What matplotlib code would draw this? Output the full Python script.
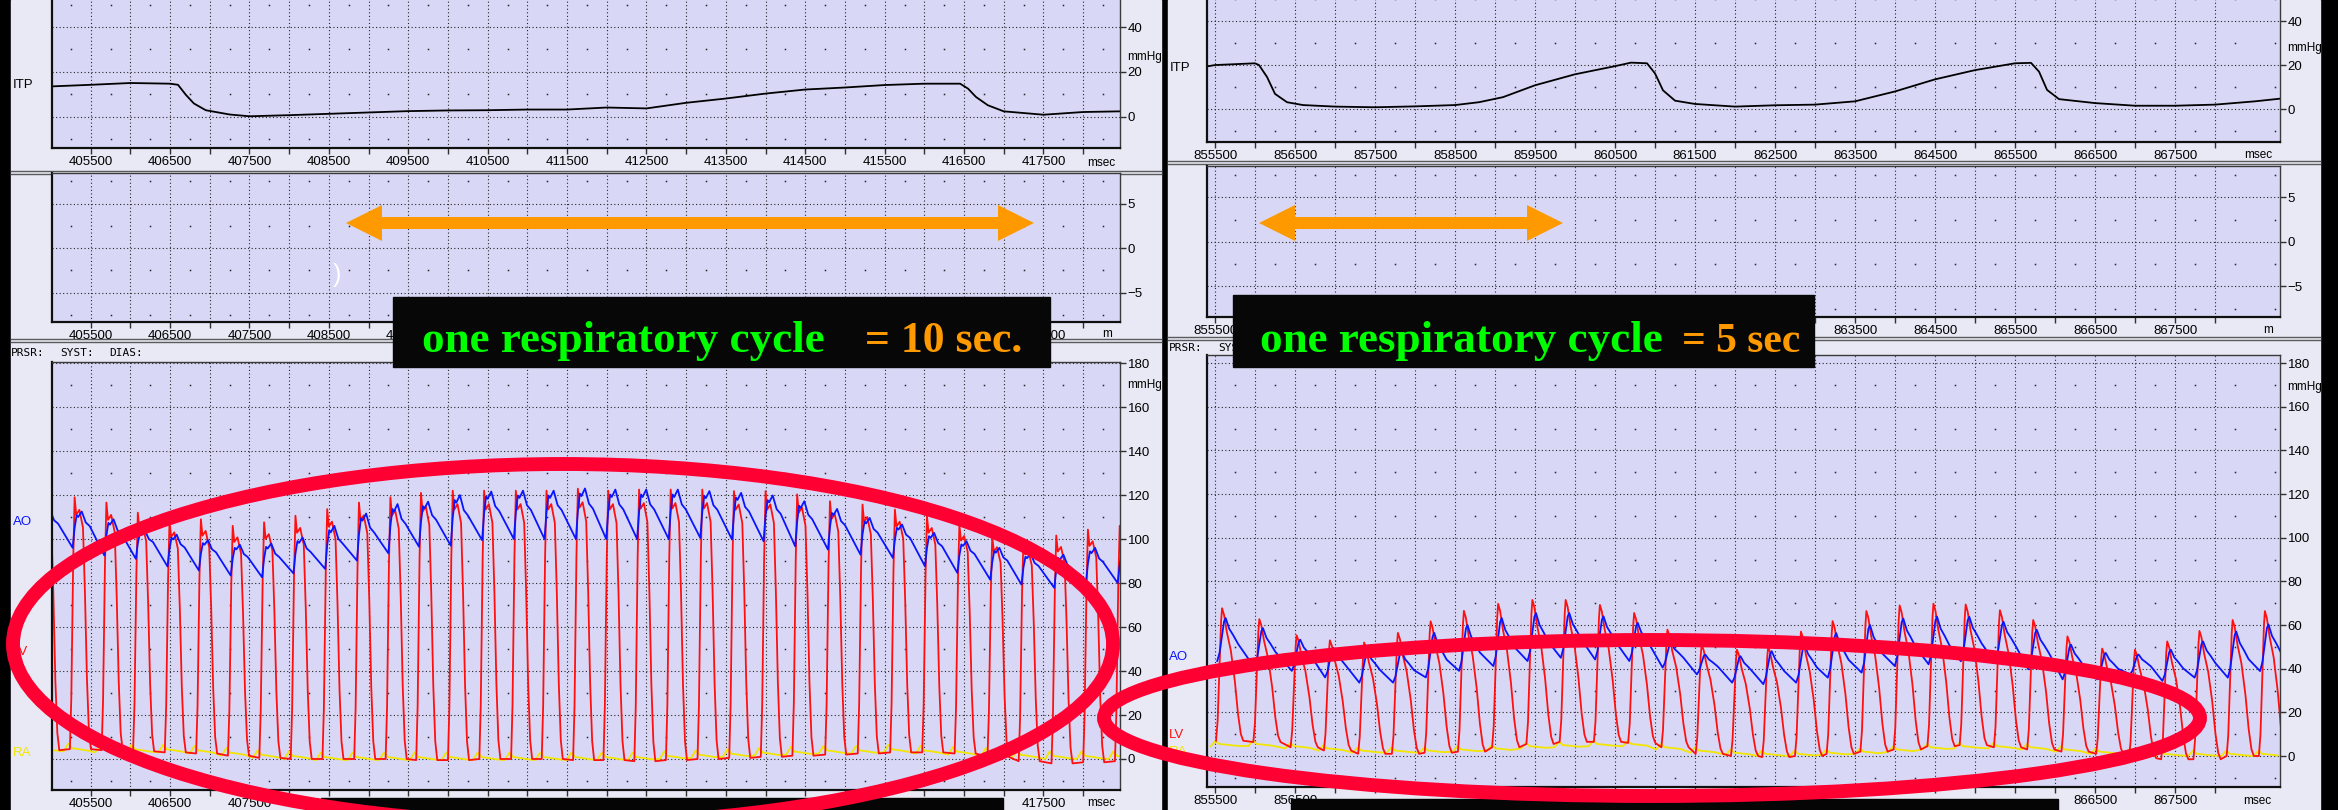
import numpy as np
import matplotlib
matplotlib.use('Agg')
import matplotlib.pyplot as plt
from matplotlib import font_manager
from matplotlib.patches import Rectangle, Ellipse, Polygon
from matplotlib.transforms import ScaledTranslation

W, H = 2338, 810
DPI = 100

# ---------------- data ----------------
# intrathoracic pressure (ITP), mmHg
left_itp_t = [405013, 405500, 406000, 406500, 406600, 406700, 406800, 406950, 407250, 407500,
              408000, 408500, 409000, 409500, 410000, 410500, 411000, 411500, 412000, 412500,
              413000, 413500, 414000, 414500, 415000, 415500, 416000, 416450, 416550, 416650,
              416800, 417000, 417500, 418000, 418460]
left_itp_v = [13.6, 14.3, 15.1, 14.8, 14.3, 9.8, 6.0, 3.0, 1.1, 0.3,
              0.8, 1.4, 2.0, 2.6, 2.9, 3.0, 3.3, 3.3, 4.2, 3.8,
              6.3, 8.2, 10.4, 12.2, 13.1, 14.2, 14.8, 14.8, 12.6, 8.9,
              5.2, 2.5, 1.0, 2.2, 2.5]

right_itp_t = [855374, 855500, 856000, 856050, 856150, 856250, 856400, 856600, 857000, 857500,
               858000, 858500, 858800, 859100, 859500, 860000, 860500, 860700, 860900, 861000,
               861100, 861250, 861500, 862000, 862500, 863000, 863500, 864000, 864500, 865000,
               865500, 865700, 865800, 865900, 866050, 866500, 867000, 867500, 868000, 868500,
               868888]
right_itp_v = [19.2, 20.0, 20.8, 20.0, 14.6, 6.9, 3.1, 1.8, 1.1, 0.8,
               1.2, 1.8, 3.1, 5.4, 10.8, 15.8, 19.5, 21.1, 20.8, 16.2,
               8.5, 3.8, 2.3, 1.1, 1.7, 2.0, 3.5, 8.0, 13.5, 17.7,
               20.8, 21.0, 17.0, 8.7, 4.5, 2.7, 1.5, 1.5, 2.0, 3.5,
               5.0]

# beat by beat values (time of LV peak, msec)
left_beat_t = [404900, 405298, 405698, 406094, 406493, 406888, 407289, 407684, 408079, 408479,
               408879, 409275, 409660, 410060, 410455, 410855, 411241, 411636, 412018, 412407,
               412805, 413203, 413602, 414000, 414398, 414811, 415221, 415629, 416033, 416441,
               416855, 417248, 417661, 418060, 418460]
left_lv_peak = [118, 119, 116.6, 112, 108.3, 109, 106, 107.6, 110.6, 113.6,
                116.6, 119, 121, 122, 122, 122, 122, 122.9, 122, 122.5,
                122.5, 122.5, 121.8, 121.8, 120.3, 117.2, 115.7, 113.4, 110.4, 106.6,
                101.3, 100.1, 101.6, 104.3, 106]
left_lv_edp = [4, 4.5, 4, 3.5, 3, 2.5, 1.5, 0.5, 0, 0,
               0, 0, -0.5, -0.5, 0, 0, 0, -0.5, -0.5, -1,
               -0.5, 0, 0.5, 1, 1.5, 2, 2.5, 3, 3, 2.5,
               1, -1, -2, -1.5, -1]
left_ao_dia = [98, 96, 92.5, 91, 87.5, 85.7, 83.4, 82.6, 84.4, 86.4,
               90.2, 93.5, 96.5, 97, 99.5, 100, 100, 100, 100, 100,
               100, 100.5, 99.8, 99, 96.7, 95.2, 92.9, 91.4, 87.6, 84.6,
               81.5, 79.3, 77.8, 80, 80]
left_ao_sys = [113, 112.5, 109, 103.8, 102, 99.5, 97.4, 98, 100.7, 106,
               111.6, 115.9, 117, 120, 121.6, 122, 122, 123, 122.5, 122.5,
               122.5, 121.8, 121, 119.8, 117.2, 113.7, 109.6, 106.6, 102.8, 99,
               96, 93.4, 92.9, 96, 95]
left_ra_base = [3.5, 3.5, 3, 3, 3, 2.5, 1.5, 0.5, 0, -0.5,
                -0.5, -0.5, -0.5, -0.5, -0.5, -0.5, -0.5, -0.5, -0.5, -0.5,
                0, 0.5, 1, 1.5, 2, 2.5, 2.5, 3, 2.5, 2,
                1.5, 0.5, 0, 0, 0]
left_ra_bump = 3.5

right_beat_t = [855588, 856054, 856520, 856936, 857364, 857786, 858195, 858611, 859039, 859467,
                859883, 860311, 860739, 861155, 861583, 862024, 862414, 862824, 863220, 863642,
                864058, 864480, 864883, 865311, 865727, 866155, 866589, 866999, 867402, 867805,
                868220, 868623]
right_lv_peak = [67.7, 62.7, 55.3, 53, 52, 56.4, 61.7, 66.5, 69.7, 71.5,
                 71.5, 69.2, 65.5, 57.9, 51, 48.7, 50, 57, 61.8, 66.4,
                 69, 69.8, 69.4, 66.8, 62.3, 54.8, 49.2, 48.7, 52.5, 57.3,
                 62.3, 66.4]
right_lv_edp = [7, 6.4, 4, 2.5, 1, 1, 1.5, 2, 4, 5.5,
                6.5, 6.5, 6, 4, 1, 0, -0.5, 0, 1, 2,
                3, 4.5, 5, 4, 3, 2, 1, -1, -1.5, -1.5,
                0, 0]
right_ao_dia = [43.5, 40.5, 39, 36, 33.6, 33.6, 36, 39, 41.2, 43.5,
                45, 44.2, 43.5, 40.5, 37.4, 33.6, 32.9, 33.6, 35.9, 38.2,
                41.2, 42, 43.4, 42.7, 39.7, 35.1, 35.1, 37.4, 34.4, 35.9,
                35.9, 38.9]
right_ao_sys = [63.2, 58.6, 53.3, 49.5, 48, 48, 56.4, 60, 63.2, 65.5,
                65.5, 64, 61, 51.8, 46.5, 45.7, 48, 51, 56.3, 60,
                63, 63.8, 63.8, 61.5, 57.8, 51, 47.2, 46.5, 48.7, 52.5,
                57, 60.3]
right_ra_base = [4.5, 4.5, 3.5, 2.5, 1.5, 1.5, 1.5, 2, 2.5, 3.5,
                 4, 4.5, 4.5, 3, 1.5, 0.5, 0, 0, 0.5, 1,
                 2, 3, 3.5, 3.5, 3, 2, 1, 0.5, 0, 0,
                 0, 0]
right_ra_bump = 2.5

# shape of one beat (msec from LV peak, fraction of the beat's swing)
left_lv_dt = [-60, -42, -18, 0, 20, 60, 105, 130, 155, 180, 205]
left_lv_f = [0, 0.2, 0.75, 1, 0.93, 0.95, 0.88, 0.62, 0.28, 0.07, 0]
left_ao_dt = [-25, 0, 25, 45, 90, 140, 190]
left_ao_f = [0, 0.55, 0.9, 0.85, 1.0, 0.7, 0.6]
right_lv_dt = [-75, -55, -30, -12, 0, 25, 60, 110, 160, 200, 235, 265]
right_lv_f = [0, 0.15, 0.6, 0.9, 1, 0.95, 0.82, 0.68, 0.45, 0.2, 0.05, 0]
right_ao_dt = [-60, -30, 0, 25, 45, 90, 140, 200]
right_ao_f = [0, 0.2, 0.6, 0.92, 1.0, 0.75, 0.6, 0.4]
ra_dt = [-140, -80, -35, 40, 160]
ra_f = [0, 1, 0.4, 0.3, 0.1]

left_xlim = (405013, 418464)
right_xlim = (855400, 868812)
left_labels = list(range(405500, 418000, 1000))
right_labels = list(range(855500, 868000, 1000))

# labels that stay visible next to the black boxes / bars
left_mid_shown = [405500, 406500, 407500, 408500, 409500, 417500]
right_mid_shown = [855500, 863500, 864500, 865500, 866500, 867500]
left_low_shown = [405500, 406500, 407500, 408500, 417500]
right_low_shown = [855500, 856500, 866500, 867500]

# ---------------- style ----------------
names = {f.name for f in font_manager.fontManager.ttflist}
if 'Liberation Sans Narrow' in names:
    SANS, TS = 'Liberation Sans Narrow', 10.5
else:
    SANS, TS = 'Liberation Sans', 9.5
plt.rcParams['font.family'] = SANS

PLOT_BG = '#d8d8f6'
PANEL_BG = '#e9e9f5'
GRID = '#262626'
LV_C, AO_C, RA_C = '#ff1010', '#0a14ff', '#f2e600'


def build(beat_t, lo, hi, dt, frac):
    xs, ys = [], []
    for t, a, b in zip(beat_t, lo, hi):
        for d, f in zip(dt, frac):
            xs.append(t + d)
            ys.append(a + f * (b - a))
    return np.array(xs), np.array(ys)


def box(x0, y0, x1, y1):
    return [x0 / W, 1 - y1 / H, (x1 - x0) / W, (y1 - y0) / H]


fig = plt.figure(figsize=(W / DPI, H / DPI), dpi=DPI)
fig.patch.set_facecolor('black')

# background axes in pixel coordinates
bg = fig.add_axes([0, 0, 1, 1], zorder=-1)
bg.set_xlim(0, W)
bg.set_ylim(H, 0)
bg.axis('off')
bg.add_patch(Rectangle((0, 0), W, H, color='black'))
bg.add_patch(Rectangle((11, 0), 1150, H, color=PANEL_BG))
bg.add_patch(Rectangle((1168, 0), 1152, H, color=PANEL_BG))
for x0, x1, ys in [(11, 1161, (171, 174, 339, 342)), (1168, 2320, (161, 164, 337, 340))]:
    for y in ys:
        bg.plot([x0, x1], [y, y], color='#5a5a5a', lw=1.0)


def panel(rect, xlim, ylim, yticks, ylabels, labels, shown=None, shift_first=0):
    ax = fig.add_axes(box(*rect), zorder=1)
    ax.set_facecolor(PLOT_BG)
    ax.set_xlim(xlim)
    ax.set_ylim(ylim)
    ax.set_axisbelow(True)
    ax.set_xticks(labels)
    if shown is None:
        shown = labels
    ax.set_xticklabels([str(v) if v in shown else '' for v in labels])
    if shift_first:
        lab0 = ax.get_xticklabels()[0]
        lab0.set_transform(lab0.get_transform() + ScaledTranslation(shift_first / DPI, 0, fig.dpi_scale_trans))
    minor = np.arange(labels[0] - 500, xlim[1], 1000)
    ax.set_xticks(minor[minor > xlim[0]], minor=True)
    ax.yaxis.tick_right()
    ax.set_yticks(yticks)
    ax.set_yticklabels(ylabels)
    ax.tick_params(axis='x', which='both', direction='out', length=4, width=1,
                   color='#303030', pad=1.5, labelsize=TS)
    ax.tick_params(axis='y', direction='out', length=4, width=1, color='#303030',
                   pad=1.5, labelsize=TS)
    ax.grid(True, which='both', axis='x', color=GRID, linestyle=(0, (1, 2.2)), linewidth=0.8)
    ax.grid(True, which='major', axis='y', color=GRID, linestyle=(0, (1, 2.2)), linewidth=0.8)
    for s in ax.spines.values():
        s.set_color('#3a3a3a')
        s.set_linewidth(1.0)
    ax.spines['left'].set_color('#101010')
    ax.spines['left'].set_linewidth(1.6)
    ax.spines['bottom'].set_color('#101010')
    ax.spines['bottom'].set_linewidth(1.6)
    # sparse dots between grid lines
    step = yticks[1] - yticks[0]
    dx = np.arange(labels[0] - 250, xlim[1], 500)
    dx = dx[dx > xlim[0]]
    dy = np.arange(yticks[0] - step / 2, ylim[1], step)
    dy = dy[dy > ylim[0]]
    X, Y = np.meshgrid(dx, dy)
    ax.plot(X.ravel(), Y.ravel(), ls='none', marker='s', ms=1.1, mew=0, color=GRID, zorder=0.5)
    return ax


P_TICKS = list(range(0, 181, 20))
P_LABELS = [str(v) for v in P_TICKS]

# ---------------- left recording ----------------
itp_l = panel((52, -2, 1120, 148), left_xlim, (-13.8, 52.9), [0, 20, 40], ['0', '20', '40'], left_labels)
itp_l.plot(left_itp_t, left_itp_v, color='black', lw=1.3)
mid_l = panel((52, 173, 1120, 322), left_xlim, (-8.31, 8.43), [-5, 0, 5], ['\u22125', '0', '5'],
              left_labels, left_mid_shown)
prs_l = panel((52, 362, 1120, 790), left_xlim, (-14.1, 180.5), P_TICKS, P_LABELS,
              left_labels, left_low_shown)
lx, ly = build(left_beat_t, np.array(left_ra_base), np.array(left_ra_base) + left_ra_bump, ra_dt, ra_f)
prs_l.plot(lx, ly, color=RA_C, lw=1.3)
lx, ly = build(left_beat_t, left_lv_edp, left_lv_peak, left_lv_dt, left_lv_f)
prs_l.plot(lx, ly, color=LV_C, lw=1.3)
lx, ly = build(left_beat_t, left_ao_dia, left_ao_sys, left_ao_dt, left_ao_f)
prs_l.plot(lx, ly, color=AO_C, lw=1.3)

# ---------------- right recording ----------------
itp_r = panel((1207, -2, 2280, 142), right_xlim, (-15.0, 50.5), [0, 20, 40], ['0', '20', '40'],
              right_labels, shift_first=14)
itp_r.plot(right_itp_t, right_itp_v, color='black', lw=1.3)
mid_r = panel((1207, 166, 2280, 317), right_xlim, (-8.43, 8.54), [-5, 0, 5], ['\u22125', '0', '5'],
              right_labels, right_mid_shown, shift_first=14)
prs_r = panel((1207, 355, 2280, 787), right_xlim, (-14.2, 183.7), P_TICKS, P_LABELS,
              right_labels, right_low_shown, shift_first=14)
rx, ry = build(right_beat_t, np.array(right_ra_base), np.array(right_ra_base) + right_ra_bump, ra_dt, ra_f)
prs_r.plot(rx, ry, color=RA_C, lw=1.3)
rx, ry = build(right_beat_t, right_lv_edp, right_lv_peak, right_lv_dt, right_lv_f)
prs_r.plot(rx, ry, color=LV_C, lw=1.3)
rx, ry = build(right_beat_t, right_ao_dia, right_ao_sys, right_ao_dt, right_ao_f)
prs_r.plot(rx, ry, color=AO_C, lw=1.3)

# channel labels and units
lab = dict(fontsize=TS, va='center')
bg.text(13, 85, 'ITP', color='black', **lab)
bg.text(1170, 68, 'ITP', color='black', **lab)
bg.text(13, 522, 'AO', color=AO_C, **lab)
bg.text(13, 652, 'LV', color=LV_C, **lab)
bg.text(13, 753, 'RA', color=RA_C, **lab)
bg.text(1169, 657, 'AO', color=AO_C, **lab)
bg.text(1169, 735, 'LV', color=LV_C, **lab)
bg.text(1169, 752, 'RA', color=RA_C, **lab)
for x, y, s in [(1127, 57, 'mmHg'), (1127, 385, 'mmHg'), (2287, 48, 'mmHg'), (2287, 387, 'mmHg'),
                (1101, 163, 'msec'), (1107, 334, 'm'), (1101, 803, 'msec'),
                (2258, 155, 'msec'), (2268, 330, 'm'), (2257, 801, 'msec')]:
    bg.text(x, y, s, color='black', fontsize=TS - 1, ha='center' if s != 'mmHg' else 'left', va='center')
for x0, yy, words in [(11, 353, ['PRSR:', 'SYST:', 'DIAS:']), (1169, 348, ['PRSR:', 'SYST'])]:
    for i, s in enumerate(words):
        bg.text(x0 + 49 * i, yy, s, color='black', fontsize=TS - 1.5, va='center', family='DejaVu Sans Mono')

# ---------------- annotations drawn over the screenshot ----------------
ov = fig.add_axes([0, 0, 1, 1], zorder=5)
ov.set_xlim(0, W)
ov.set_ylim(H, 0)
ov.axis('off')
ov.patch.set_alpha(0)

ov.add_patch(Rectangle((321, 798), 682, 14, color='#050505', zorder=1))
ov.add_patch(Rectangle((1291, 799), 767, 13, color='#050505', zorder=1))

RED = '#ff0033'
ov.add_patch(Ellipse((563, 644), 1100, 360, fill=False, ec=RED, lw=10, zorder=2))
ov.add_patch(Ellipse((1652, 718), 1096, 156, fill=False, ec=RED, lw=10, zorder=2))


def double_arrow(x0, x1, y, hl=36, hw=18, sw=6):
    pts = [(x0, y), (x0 + hl, y - hw), (x0 + hl, y - sw), (x1 - hl, y - sw), (x1 - hl, y - hw),
           (x1, y), (x1 - hl, y + hw), (x1 - hl, y + sw), (x0 + hl, y + sw), (x0 + hl, y + hw)]
    ov.add_patch(Polygon(pts, closed=True, color='#ff9900', lw=0, zorder=3))


double_arrow(346, 1034, 223)
double_arrow(1259, 1563, 223)
ov.text(337, 275, ')', color='white', fontsize=18, ha='center', va='center', zorder=3)

ov.add_patch(Rectangle((393, 297), 657, 70, color='#070707', zorder=3))
ov.add_patch(Rectangle((1233, 295), 581, 72, color='#070707', zorder=3))
serif = dict(family='Liberation Serif', weight='bold', va='baseline', zorder=4)
ov.text(422, 352, 'one respiratory cycle', color='#00ff00', fontsize=32.5, **serif)
ov.text(865, 352, '= 10 sec.', color='#ff9900', fontsize=31.5, **serif)
ov.text(1260, 352, 'one respiratory cycle', color='#00ff00', fontsize=32.5, **serif)
ov.text(1682, 352, '= 5 sec', color='#ff9900', fontsize=30, **serif)

fig.savefig('out.png', dpi=DPI, facecolor=fig.get_facecolor())
